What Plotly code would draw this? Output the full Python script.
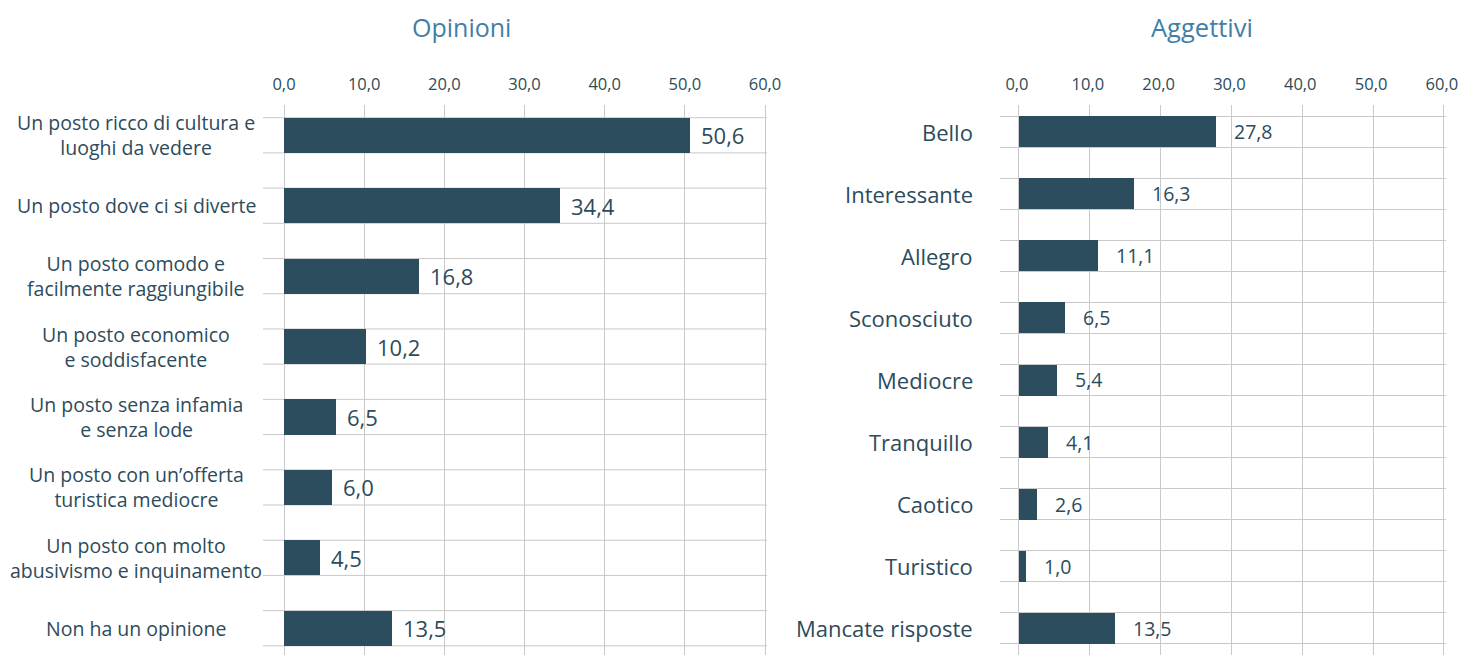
import plotly.graph_objects as go

# ---- data ----
op_labels = [
    "Un posto ricco di cultura e<br>luoghi da vedere",
    "Un posto dove ci si diverte",
    "Un posto comodo e<br>facilmente raggiungibile",
    "Un posto economico<br>e soddisfacente",
    "Un posto senza infamia<br>e senza lode",
    "Un posto con un’offerta<br>turistica mediocre",
    "Un posto con molto<br>abusivismo e inquinamento",
    "Non ha un opinione",
]
op_values = [50.6, 34.4, 16.8, 10.2, 6.5, 6.0, 4.5, 13.5]

ag_labels = ["Bello", "Interessante", "Allegro", "Sconosciuto", "Mediocre",
             "Tranquillo", "Caotico", "Turistico", "Mancate risposte"]
ag_values = [27.8, 16.3, 11.1, 6.5, 5.4, 4.1, 2.6, 1.0, 13.5]

tick_vals = [0, 10, 20, 30, 40, 50, 60]
tick_text = ["0,0", "10,0", "20,0", "30,0", "40,0", "50,0", "60,0"]

titles = ["Opinioni", "Aggettivi"]

# ---- style ----
W, H = 1460, 655
BAR = "#2b4d5d"
TEXT = "#2d4b5b"
TITLE = "#3f7fa7"
GRID = "#c9c9c9"
FONT = "Open Sans"

def fmt(v):
    return f"{v:.1f}".replace(".", ",")

fig = go.Figure()
fig.add_trace(go.Bar(x=op_values, y=list(range(len(op_values))), orientation="h",
                     width=0.5, marker=dict(color=BAR, line=dict(width=0)),
                     xaxis="x", yaxis="y", hoverinfo="x"))
fig.add_trace(go.Bar(x=ag_values, y=list(range(len(ag_values))), orientation="h",
                     width=0.5, marker=dict(color=BAR, line=dict(width=0)),
                     xaxis="x2", yaxis="y2", hoverinfo="x"))

xr1 = [-2.62, 60.25]
xr2 = [-2.68, 60.3]
ytop = 1 - 105 / H

common_x = dict(side="top", tickvals=tick_vals, ticktext=tick_text, showgrid=True,
                gridcolor=GRID, gridwidth=1, zeroline=False, showline=False, ticks="",
                tickfont=dict(family=FONT, size=16.5, color=TEXT), ticklabelstandoff=11,
                ticklabeloverflow="allow", fixedrange=True, automargin=False)
common_y = dict(showticklabels=False, showgrid=False, zeroline=False, showline=False,
                ticks="", fixedrange=True, automargin=False)

fig.update_layout(
    width=W, height=H, autosize=False, margin=dict(l=0, r=0, t=0, b=0, pad=0),
    paper_bgcolor="white", plot_bgcolor="white", showlegend=False,
    bargap=0,
    xaxis=dict(domain=[263 / W, 767 / W], range=xr1, anchor="y", **common_x),
    yaxis=dict(domain=[0, ytop], range=[len(op_values) - 1 + 0.38, -0.43], anchor="x", **common_y),
    xaxis2=dict(domain=[1000 / W, 1446 / W], range=xr2, anchor="y2", ticklabelshift=-2, **common_x),
    yaxis2=dict(domain=[0, ytop], range=[len(ag_values) - 1 + 0.435, -0.435], anchor="x2", **common_y),
)

shapes = []
annotations = []
# horizontal separator lines at bar edges
for i in range(len(op_values)):
    for d in (-0.25, 0.25):
        shapes.append(dict(type="line", xref="x", yref="y", x0=xr1[0], x1=xr1[1],
                           y0=i + d, y1=i + d, line=dict(color=GRID, width=1), layer="below"))
for i in range(len(ag_values)):
    for d in (-0.25, 0.25):
        shapes.append(dict(type="line", xref="x2", yref="y2", x0=xr2[0], x1=xr2[1],
                           y0=i + d, y1=i + d, line=dict(color=GRID, width=1), layer="below"))

# category labels
for i, lab in enumerate(op_labels):
    annotations.append(dict(text=lab, xref="paper", yref="y", x=136 / W, y=i,
                            xanchor="center", yanchor="middle", align="center", showarrow=False,
                            font=dict(family=FONT, size=19.5, color=TEXT)))
for i, lab in enumerate(ag_labels):
    annotations.append(dict(text=lab, xref="paper", yref="y2", x=975 / W, y=i,
                            xanchor="right", yanchor="middle", align="right", showarrow=False,
                            font=dict(family=FONT, size=22, color=TEXT)))

# value labels
for i, v in enumerate(op_values):
    annotations.append(dict(text=fmt(v), xref="x", yref="y", x=v, y=i, xanchor="left",
                            yanchor="middle", xshift=9, showarrow=False,
                            font=dict(family=FONT, size=22, color=TEXT)))
for i, v in enumerate(ag_values):
    annotations.append(dict(text=fmt(v), xref="x2", yref="y2", x=v, y=i, xanchor="left",
                            yanchor="middle", xshift=16, showarrow=False,
                            font=dict(family=FONT, size=19.5, color=TEXT)))

# titles
annotations.append(dict(text=titles[0], xref="paper", yref="paper", x=461 / W, y=1 - 27 / H,
                        xanchor="center", yanchor="middle", showarrow=False,
                        font=dict(family=FONT, size=25, color=TITLE)))
annotations.append(dict(text=titles[1], xref="paper", yref="paper", x=1202 / W, y=1 - 27 / H,
                        xanchor="center", yanchor="middle", showarrow=False,
                        font=dict(family=FONT, size=25.5, color=TITLE)))

fig.update_layout(shapes=shapes, annotations=annotations)
fig.write_html(
    "out.html",
    config={"responsive": False, "displayModeBar": False},
    post_script="document.body.style.margin='0px';document.body.style.overflow='hidden';",
)
